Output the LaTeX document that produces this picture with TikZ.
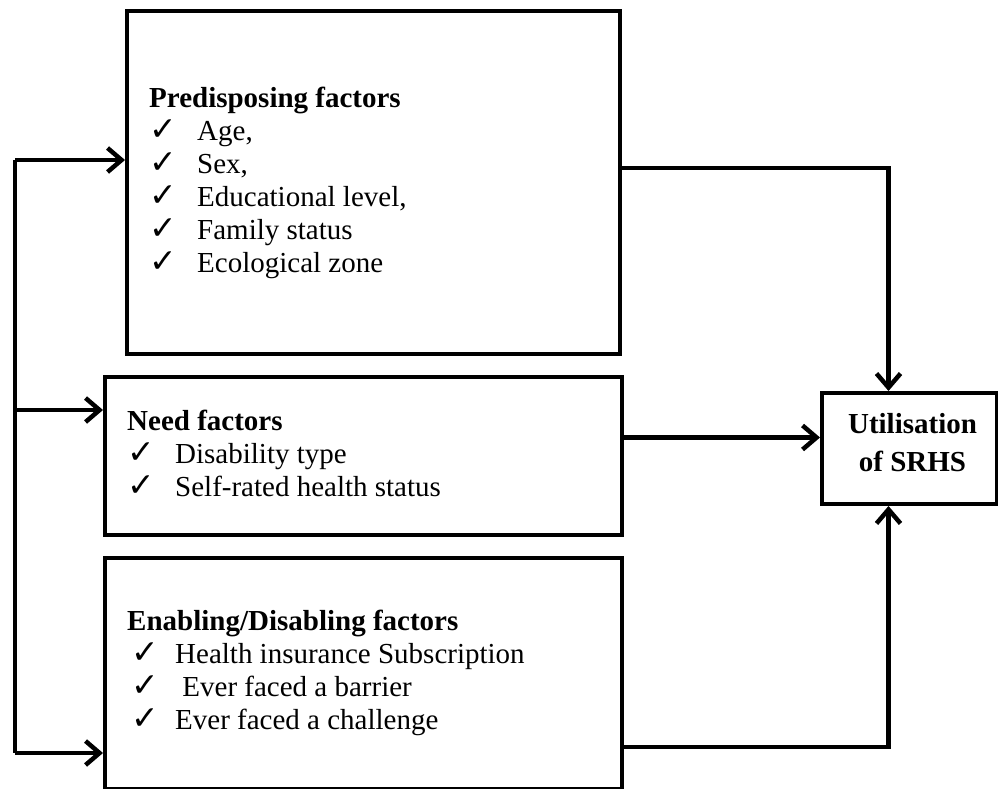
\documentclass[tikz,border=0pt]{standalone}
\usepackage{fontspec}
\setmainfont{Liberation Serif}
\newfontfamily\symfont{DejaVu Sans}
\usetikzlibrary{arrows.meta}
\newcommand{\chk}[1][0pt]{\makebox[48pt][l]{\hspace*{#1}\smash{\symfont\fontsize{33}{33}\selectfont ✓}}}

\begin{document}
\begin{tikzpicture}[x=1pt, y=-1pt,
	factorbox/.style={draw, line width=4pt, anchor=north west, inner sep=0pt},
	listtext/.style={anchor=north west, align=left, inner sep=0pt, font=\fontsize{29}{33}\selectfont},
	flow/.style={line width=4.5pt, -{Straight Barb[length=14pt, width=24pt]}},
	bus/.style={line width=4.5pt}]
	\useasboundingbox (0,0) rectangle (998,789);
	% boxes
	\node[factorbox, minimum width=493pt, minimum height=343pt] (pred) at (125,9) {};
	\node[factorbox, minimum width=517pt, minimum height=158pt] (need) at (103,375) {};
	\node[factorbox, minimum width=517pt, minimum height=231pt] (enab) at (103,556) {};
	\node[factorbox, minimum width=175pt, minimum height=111pt] (util) at (820,391) {};
	% texts
	\node[listtext] (predtxt) at (149,87) {\textbf{Predisposing factors}\\
		\chk Age,\\ \chk Sex,\\ \chk Educational level,\\ \chk Family status\\ \chk Ecological zone};
	\node[listtext] (needtxt) at (127,410) {\textbf{Need factors}\\
		\chk Disability type\\ \chk Self-rated health status};
	\node[listtext] (enabtxt) at (127,610) {\textbf{Enabling/Disabling factors}\\
		\chk[4pt]Health insurance Subscription\\ \chk[4pt]\ Ever faced a barrier\\ \chk[4pt]Ever faced a challenge};
	\node[align=center, inner sep=0pt, font=\fontsize{29}{38}\selectfont\bfseries] (utiltxt)
		at ([xshift=3pt, yshift=6pt]util.center) {Utilisation\\of SRHS};
	% arrows to the outcome
	\coordinate (predout) at ([yshift=-159pt]pred.north east);
	\coordinate (utiltop) at ([xshift=-21pt]util.north);
	\coordinate (utilbot) at ([xshift=-21pt]util.south);
	\coordinate (utilin) at ([yshift=11pt]util.west);
	\coordinate (enabout) at ([yshift=44pt]enab.south east);
	\draw[flow] (predout) -| (utiltop);
	\draw[flow] (need.east |- utilin) -- (utilin);
	\draw[flow] (enabout) -| (utilbot);
	% feedback line on the left
	\coordinate (bustop) at (15,160);
	\coordinate (busbot) at (15,753);
	\coordinate (needin) at ([yshift=-35pt]need.north west);
	\draw[bus] (bustop) -- (busbot);
	\draw[flow] (bustop) -- (bustop -| pred.west);
	\draw[flow] (bustop |- needin) -- (needin);
	\draw[flow] (busbot) -- (busbot -| enab.west);
\end{tikzpicture}
\end{document}
